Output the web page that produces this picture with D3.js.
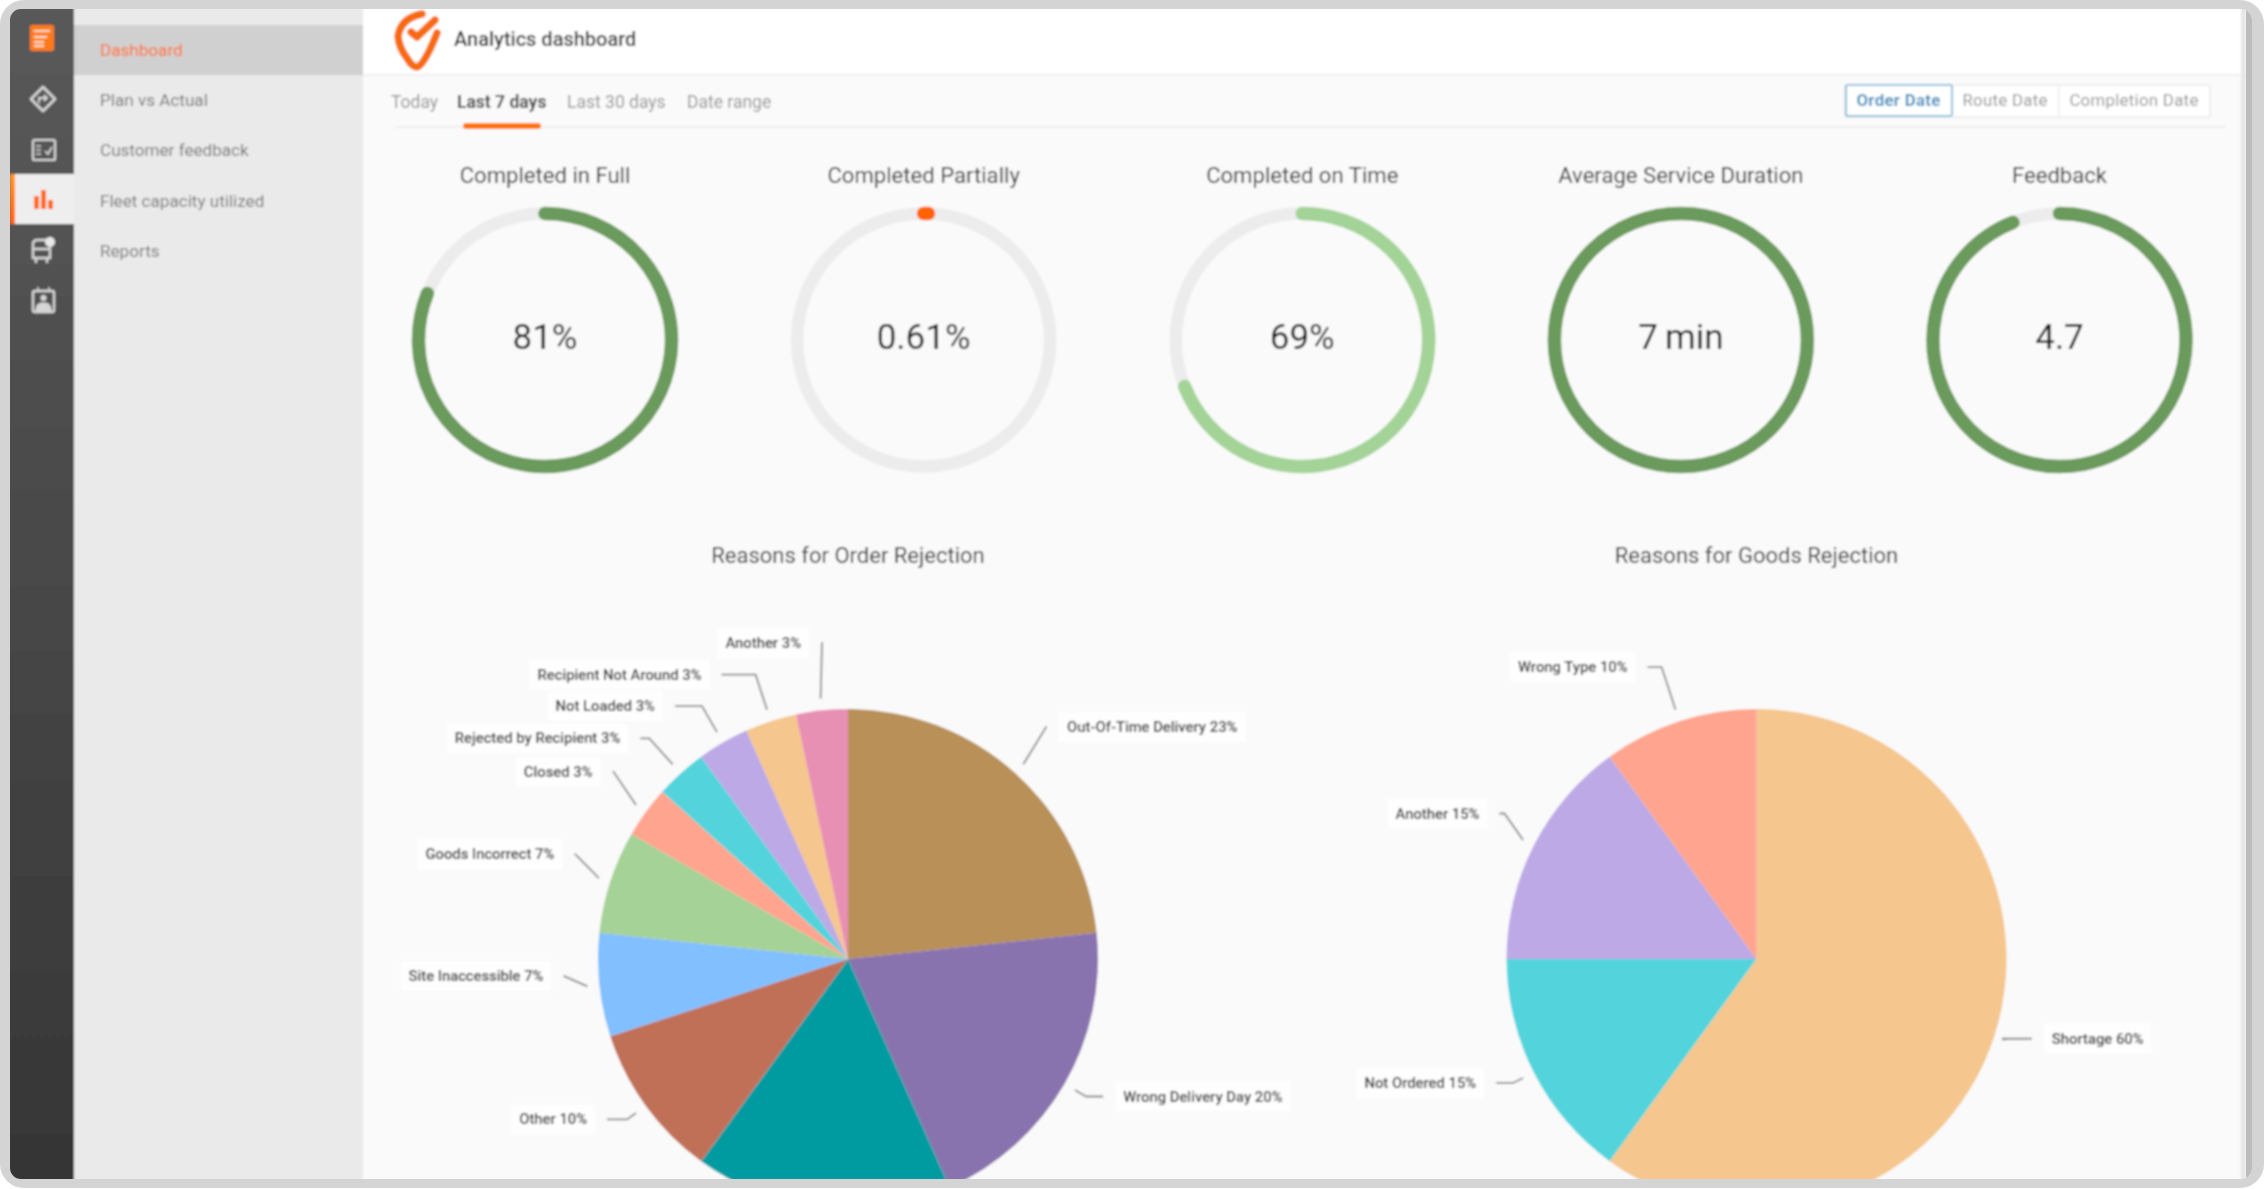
<!DOCTYPE html>
<html>
<head>
<meta charset="utf-8">
<title>Analytics dashboard</title>
<script src="https://cdn.jsdelivr.net/npm/d3@7"></script>
<style>
  html, body { margin: 0; padding: 0; background: #fff; overflow: hidden; }
  svg { display: block; font-family: Roboto, sans-serif; }
</style>
</head>
<body>
<script>
// chart values
const navItems = ['Dashboard', 'Plan vs Actual', 'Customer feedback', 'Fleet capacity utilized', 'Reports']
const tabLabels = ['Today', 'Last 7 days', 'Last 30 days', 'Date range']
const dateButtons = ['Order Date', 'Route Date', 'Completion Date']

const gaugeTitles = ['Completed in Full', 'Completed Partially', 'Completed on Time', 'Average Service Duration', 'Feedback']
const gaugeTexts = ['81%', '0.61%', '69%', '7\u2009min', '4.7']
const gaugeFractions = [0.81, 0.0061, 0.69, 1, 0.94]
const gaugeColors = ['#6a9a5b', '#ff6200', '#a3d397', '#6a9a5b', '#6a9a5b']

// the teal slice has its label cut off by the bottom of the screenshot
const orderReasons = ['Out-Of-Time Delivery', 'Wrong Delivery Day', null, 'Other', 'Site Inaccessible', 'Goods Incorrect', 'Closed', 'Rejected by Recipient', 'Not Loaded', 'Recipient Not Around', 'Another']
const orderCounts = [7, 6, 5, 3, 2, 2, 1, 1, 1, 1, 1]
const orderColors = ['#b89059', '#8973ae', '#009ba1', '#c16f59', '#82bfff', '#a5d296', '#ffa48e', '#52d4dc', '#bca9e6', '#f5c68e', '#e88fb4']

const goodsReasons = ['Shortage', 'Not Ordered', 'Another', 'Wrong Type']
const goodsCounts = [12, 3, 3, 2]
const goodsColors = ['#f5c68e', '#52d4dc', '#bca9e6', '#ffa48e']

// hand tuned leader lines: radial length, angle nudge in degrees, horizontal stub
const orderLeaderLen = [43, 13, 0, 11, 23, 30, 38, 35, 30, 37, 55]
const orderLeaderTurn = [-1.5, 0, 0, 0, 2.6, 3, 2.6, 0, 0, 0, 1.3]
const orderLeaderStub = [1, 17, 0, 20, 0, 1, 1, 9, 27, 34, 1]
const goodsLeaderLen = [-4, 11, 29, 45]
const goodsLeaderTurn = [0, 0, 3, 0]
const goodsLeaderStub = [30, 17, 5, 14]

const width = 2264
const height = 1189
const svg = d3.select('body').append('svg').attr('width', width).attr('height', height)
const defs = svg.append('defs')

defs.append('clipPath').attr('id', 'screen')
  .append('rect').attr('x', 10).attr('y', 9).attr('width', 2242).attr('height', 1170).attr('rx', 11)

// the reference is an upscaled screenshot, so everything on the screen is a bit soft
defs.append('filter').attr('id', 'soft')
  .attr('filterUnits', 'userSpaceOnUse')
  .attr('x', 0).attr('y', 0).attr('width', width).attr('height', height)
  .append('feGaussianBlur').attr('stdDeviation', 0.85)

function gradient(id, from, to) {
  const g = defs.append('linearGradient').attr('id', id).attr('x1', 0).attr('y1', 0).attr('x2', 0).attr('y2', 1)
  g.append('stop').attr('offset', 0).attr('stop-color', from)
  g.append('stop').attr('offset', 1).attr('stop-color', to)
}
gradient('rail', '#5a5a5a', '#353535')
gradient('accent', '#ff9a1e', '#ff6200')

// outer frame of the screenshot
svg.append('rect').attr('width', width).attr('height', height - 1).attr('rx', 24).attr('fill', '#d4d4d4')

const screen = svg.append('g').attr('clip-path', 'url(#screen)')
const page = screen.append('g').attr('filter', 'url(#soft)')

page.append('rect').attr('x', 0).attr('y', 0).attr('width', width).attr('height', height).attr('fill', '#fafafa')

// side panel
page.append('rect').attr('x', 74).attr('y', 0).attr('width', 289).attr('height', height).attr('fill', '#ebeaeb')
page.append('rect').attr('x', 74).attr('y', 25).attr('width', 289).attr('height', 50).attr('fill', '#d1d0d1')

const navY = d3.scaleLinear().domain([0, 1]).range([49.5, 99.9])

page.selectAll('.nav').data(navItems).join('text')
  .attr('x', 100)
  .attr('y', (d, i) => navY(i))
  .attr('dominant-baseline', 'central')
  .attr('font-size', 17.1)
  .attr('fill', (d, i) => i === 0 ? '#ff6a1a' : '#777777')
  .text(d => d)

// icon rail
page.append('rect').attr('x', 0).attr('y', 0).attr('width', 74).attr('height', height).attr('fill', 'url(#rail)')
page.append('rect').attr('x', 10).attr('y', 174).attr('width', 64).attr('height', 50).attr('fill', '#eeeeee')
page.append('rect').attr('x', 10).attr('y', 174).attr('width', 5).attr('height', 50).attr('fill', 'url(#accent)')

page.append('rect').attr('x', 30).attr('y', 25).attr('width', 24).attr('height', 26).attr('rx', 2).attr('fill', '#ff7a14')
page.append('path').attr('d', 'M34 31H50M34 37H47M34 42H44M34 46H44').attr('stroke', '#ffe0c4').attr('stroke-width', 2.2).attr('fill', 'none')

const iconInk = '#d6d6d6'
page.append('path').attr('d', 'M43 87L55 99L43 111L31 99Z').attr('fill', 'none').attr('stroke', iconInk).attr('stroke-width', 2.6).attr('stroke-linejoin', 'round')
page.append('path').attr('d', 'M39 103V98H47M44 95L47 98L44 101').attr('fill', 'none').attr('stroke', iconInk).attr('stroke-width', 1.8)
page.append('rect').attr('x', 33).attr('y', 140).attr('width', 22).attr('height', 20).attr('rx', 1.5).attr('fill', 'none').attr('stroke', iconInk).attr('stroke-width', 2.2)
page.append('path').attr('d', 'M36 146H41M36 150H41M36 154H41M45 151L48 154L52 147').attr('fill', 'none').attr('stroke', iconInk).attr('stroke-width', 1.7)

page.append('path').attr('d', 'M34 209V196H39V209ZM41 209V190H46V209ZM48 209V200H53V209Z').attr('fill', '#ff6a10')

page.append('path').attr('d', 'M33 258V244Q33 240 38 240H47Q50 240 50 244V258ZM34 249H49M36 258V263M47 258V263').attr('fill', 'none').attr('stroke', iconInk).attr('stroke-width', 2.4)
page.append('circle').attr('cx', 50).attr('cy', 242).attr('r', 5).attr('fill', '#e8e8e8')
page.append('rect').attr('x', 33).attr('y', 291).attr('width', 21).attr('height', 21).attr('rx', 2).attr('fill', 'none').attr('stroke', iconInk).attr('stroke-width', 2.4)
page.append('path').attr('d', 'M36 311Q36 303 43.5 303Q51 303 51 311ZM38 291V287M49 291V287').attr('fill', iconInk).attr('stroke', iconInk).attr('stroke-width', 1.5)
page.append('circle').attr('cx', 43.5).attr('cy', 298).attr('r', 3).attr('fill', iconInk)

// header
page.append('rect').attr('x', 363).attr('y', 0).attr('width', width - 363).attr('height', 74).attr('fill', '#ffffff')
page.append('rect').attr('x', 363).attr('y', 74).attr('width', width - 363).attr('height', 2).attr('fill', '#f0f0f0')
page.append('path').attr('d', 'M422 14Q401 18 398 36Q399 48 407 58Q412 67 417 67Q424 66 437 33')
  .attr('fill', 'none').attr('stroke', '#f76a0c').attr('stroke-width', 7.5).attr('stroke-linecap', 'round')
page.append('path').attr('d', 'M411 32L417 37L435 20')
  .attr('fill', 'none').attr('stroke', '#f76a0c').attr('stroke-width', 7.5).attr('stroke-linecap', 'round').attr('stroke-linejoin', 'round')
page.append('text').attr('x', 454).attr('y', 39).attr('dominant-baseline', 'central')
  .attr('font-size', 20).attr('font-weight', 500).attr('fill', '#1f1f1f').text('Analytics dashboard')

// date tabs
page.append('rect').attr('x', 395).attr('y', 126).attr('width', 1831).attr('height', 2).attr('fill', '#eeeeee')
page.append('rect').attr('x', 463).attr('y', 123).attr('width', 78).attr('height', 6).attr('rx', 3).attr('fill', '#ff7506')

const tabX = d3.scaleOrdinal().domain(tabLabels).range([391, 457, 567, 687])

page.selectAll('.tab').data(tabLabels).join('text')
  .attr('x', d => tabX(d))
  .attr('y', 102)
  .attr('dominant-baseline', 'central')
  .attr('font-size', 17.5)
  .attr('font-weight', (d, i) => i === 1 ? 700 : 400)
  .attr('fill', (d, i) => i === 1 ? '#444444' : '#949494')
  .text(d => d)

// date type buttons
const buttonEdges = d3.scaleOrdinal().domain(dateButtons).range([[1845, 1952], [1952, 2058], [2058, 2210]])

page.append('rect').attr('x', 1845).attr('y', 85).attr('width', 365).attr('height', 32).attr('rx', 2).attr('fill', '#ffffff').attr('stroke', '#eeeeee').attr('stroke-width', 2)
page.append('rect').attr('x', 1846).attr('y', 85).attr('width', 106).attr('height', 31).attr('rx', 2).attr('fill', '#ffffff').attr('stroke', '#6bb0d6').attr('stroke-width', 1.6)
page.append('rect').attr('x', 2058).attr('y', 85).attr('width', 1.5).attr('height', 31).attr('fill', '#eeeeee')

page.selectAll('.date-button').data(dateButtons).join('text')
  .attr('x', d => d3.mean(buttonEdges(d)))
  .attr('y', 100)
  .attr('text-anchor', 'middle')
  .attr('dominant-baseline', 'central')
  .attr('font-size', 16.8)
  .attr('font-weight', (d, i) => i === 0 ? 700 : 400)
  .attr('letter-spacing', 0.3)
  .attr('fill', (d, i) => i === 0 ? '#3b8fbe' : '#949494')
  .text(d => d)

// gauges
const gaugeX = d3.scaleLinear().domain([0, 4]).range([545, 2059.5])
const gaugeAngle = d3.scaleLinear().domain([0, 1]).range([-Math.PI / 2, 1.5 * Math.PI])
const gaugeRadius = 126.5

function gaugeArc(fraction) {
  const p = d3.path()
  p.arc(0, 0, gaugeRadius, gaugeAngle(0), gaugeAngle(fraction))
  return p.toString()
}

const gauges = page.selectAll('.gauge').data(gaugeTitles).join('g')
  .attr('transform', (d, i) => `translate(${gaugeX(i)},340)`)

gauges.append('circle')
  .attr('r', gaugeRadius)
  .attr('fill', 'none')
  .attr('stroke', '#ececec')
  .attr('stroke-width', 12.5)

gauges.append('path')
  .attr('d', (d, i) => gaugeArc(gaugeFractions[i]))
  .attr('fill', 'none')
  .attr('stroke', (d, i) => gaugeColors[i])
  .attr('stroke-width', 13.5)
  .attr('stroke-linecap', 'round')

gauges.append('text')
  .attr('y', -165)
  .attr('text-anchor', 'middle')
  .attr('dominant-baseline', 'central')
  .attr('font-size', 22.1)
  .attr('fill', '#333333')
  .text(d => d)

gauges.append('text')
  .attr('y', -3)
  .attr('text-anchor', 'middle')
  .attr('dominant-baseline', 'central')
  .attr('font-size', 35)
  .attr('fill', '#111111')
  .text((d, i) => gaugeTexts[i])

// pies
const percent = d3.format('.0%')
const pieLayout = d3.pie().sort(null)
const pieRadius = 250

function drawPie(cx, cy, title, reasons, counts, colors, leaderLen, leaderTurn, leaderStub) {
  const total = d3.sum(counts)
  const slices = pieLayout(counts)
  const g = page.append('g').attr('transform', `translate(${cx},${cy})`)

  g.append('text')
    .attr('y', -404)
    .attr('text-anchor', 'middle')
    .attr('dominant-baseline', 'central')
    .attr('font-size', 22)
    .attr('fill', '#333333')
    .text(title)

  g.selectAll('.slice').data(slices).join('path')
    .attr('d', d3.arc().innerRadius(0).outerRadius(pieRadius))
    .attr('fill', (d, i) => colors[i])

  slices.forEach((slice, i) => {
    if (!reasons[i]) return
    const mid = (slice.startAngle + slice.endAngle) / 2
    const start = d3.pointRadial(mid, pieRadius + 12)
    const elbow = d3.pointRadial(mid + leaderTurn[i] * Math.PI / 180, pieRadius + 12 + leaderLen[i])
    const side = Math.sin(mid) >= 0 ? 1 : -1
    const tip = [elbow[0] + side * leaderStub[i], elbow[1]]

    g.append('path')
      .attr('d', d3.line()([start, elbow, tip]))
      .attr('fill', 'none')
      .attr('stroke', '#888888')
      .attr('stroke-width', 1.8)

    const box = g.append('rect').attr('fill', '#ffffff').attr('opacity', 0.75)
    const label = g.append('text')
      .attr('x', tip[0] + side * 20)
      .attr('y', tip[1])
      .attr('text-anchor', side > 0 ? 'start' : 'end')
      .attr('dominant-baseline', 'central')
      .attr('font-size', 14.8)
      .attr('font-weight', 500)
      .attr('fill', '#1f1f1f')
      .text(`${reasons[i]} ${percent(counts[i] / total)}`)

    const size = label.node().getBBox()
    box.attr('x', size.x - 8).attr('y', tip[1] - 15).attr('width', size.width + 16).attr('height', 30)
  })
}

drawPie(848, 959, 'Reasons for Order Rejection', orderReasons, orderCounts, orderColors, orderLeaderLen, orderLeaderTurn, orderLeaderStub)
drawPie(1756.5, 959, 'Reasons for Goods Rejection', goodsReasons, goodsCounts, goodsColors, goodsLeaderLen, goodsLeaderTurn, goodsLeaderStub)

// shaded edge on the right of the screen
page.append('rect').attr('x', 2241).attr('y', 0).attr('width', 5).attr('height', height).attr('fill', '#e6e6e6')
screen.append('rect').attr('x', 2246).attr('y', 0).attr('width', 6).attr('height', height).attr('fill', '#bcbcbc')
</script>
</body>
</html>
